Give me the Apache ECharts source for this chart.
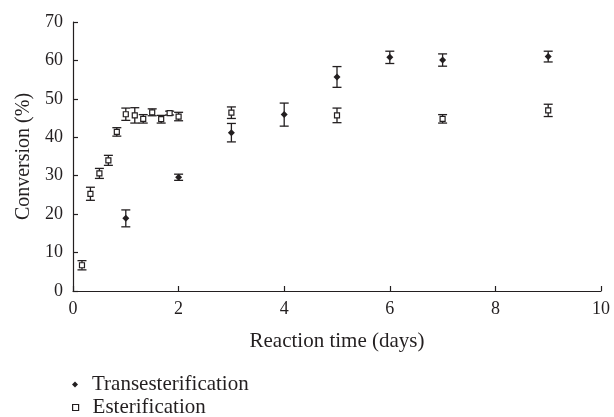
<!DOCTYPE html>
<html>
<head>
<meta charset="utf-8">
<script src="https://cdn.jsdelivr.net/npm/echarts@6/dist/echarts.min.js"></script>
<style>
  html, body { margin: 0; padding: 0; background: #fff; }
  #chart { width: 614px; height: 417px; }
</style>
</head>
<body>
<div id="chart"></div>
<script>
// reaction time (days) and conversion (%) with error bar half-widths
const transTime = [1, 2, 3, 4, 5, 6, 7, 9];
const transValue = [18.9, 29.6, 41.2, 45.9, 55.7, 60.8, 60.1, 61.0];
const transErr = [2.2, 0.8, 2.4, 3.0, 2.7, 1.6, 1.6, 1.4];

const esterTime = [0.17, 0.33, 0.5, 0.67, 0.83, 1, 1.17, 1.33, 1.5, 1.67, 1.83, 2, 3, 5, 7, 9];
const esterValue = [6.7, 25.3, 30.6, 34.0, 41.4, 46.0, 45.7, 44.8, 46.5, 44.7, 46.3, 45.4, 46.4, 45.7, 44.8, 47.0];
const esterErr = [1.2, 1.7, 1.3, 1.3, 1.1, 1.6, 2.0, 1.1, 0.9, 1.0, 0.5, 1.1, 1.5, 1.9, 1.1, 1.6];

const xTicks = [0, 2, 4, 6, 8, 10];
const yTicks = [0, 10, 20, 30, 40, 50, 60, 70];

const ink = '#231f20';
const font = 'Liberation Serif';

function errorSeries(times, values, errs) {
  return {
    type: 'custom',
    silent: true,
    z: 1,
    data: times.map((t, i) => [t, values[i] - errs[i], values[i] + errs[i]]),
    renderItem: (params, api) => {
      const lo = api.coord([api.value(0), api.value(1)]);
      const hi = api.coord([api.value(0), api.value(2)]);
      const w = 4.5;
      const style = { stroke: ink, lineWidth: 1.3 };
      return {
        type: 'group',
        children: [
          { type: 'line', shape: { x1: lo[0], y1: lo[1], x2: hi[0], y2: hi[1] }, style },
          { type: 'line', shape: { x1: lo[0] - w, y1: lo[1], x2: lo[0] + w, y2: lo[1] }, style },
          { type: 'line', shape: { x1: hi[0] - w, y1: hi[1], x2: hi[0] + w, y2: hi[1] }, style },
        ],
      };
    },
  };
}

// one legend per entry so the two rows stack like the original
function legendRow(top, item) {
  return {
    orient: 'vertical',
    left: 72,
    top: top,
    itemWidth: 6,
    itemHeight: 6,
    padding: 0,
    textStyle: { fontFamily: font, fontSize: 21, color: ink, lineHeight: 21, padding: [0, 0, 0, 9] },
    data: [item],
  };
}

const chart = echarts.init(document.getElementById('chart'), null, { renderer: 'canvas' });

chart.setOption({
  animation: false,
  backgroundColor: '#fff',
  textStyle: { fontFamily: font, color: ink },
  grid: { left: 73, right: 13, top: 22, bottom: 126, containLabel: false },
  legend: [
    legendRow(374, { name: 'Transesterification', icon: 'diamond', itemStyle: { color: ink, borderWidth: 0 } }),
    legendRow(397, { name: 'Esterification', icon: 'rect', itemStyle: { color: '#fff', borderColor: ink, borderWidth: 1.2 } }),
  ],
  xAxis: {
    type: 'value',
    min: xTicks[0],
    max: xTicks[xTicks.length - 1],
    interval: 2,
    name: 'Reaction time (days)',
    nameLocation: 'middle',
    nameGap: 40,
    nameTextStyle: { fontFamily: font, fontSize: 21, color: ink },
    axisLine: { show: true, lineStyle: { color: ink, width: 1.2 } },
    axisTick: { show: true, inside: true, length: 5, lineStyle: { color: ink, width: 1.2 } },
    axisLabel: { fontFamily: font, fontSize: 18, color: ink, margin: 9 },
    splitLine: { show: false },
  },
  yAxis: {
    type: 'value',
    min: yTicks[0],
    max: yTicks[yTicks.length - 1],
    interval: 10,
    name: 'Conversion (%)',
    nameLocation: 'middle',
    nameGap: 38,
    nameTextStyle: { fontFamily: font, fontSize: 20, color: ink },
    axisLine: { show: true, lineStyle: { color: ink, width: 1.2 } },
    axisTick: { show: true, inside: true, length: 5, lineStyle: { color: ink, width: 1.2 } },
    axisLabel: { fontFamily: font, fontSize: 18, color: ink, margin: 10 },
    splitLine: { show: false },
  },
  series: [
    errorSeries(transTime, transValue, transErr),
    errorSeries(esterTime, esterValue, esterErr),
    {
      name: 'Transesterification',
      type: 'scatter',
      z: 3,
      symbol: 'diamond',
      symbolSize: 7,
      itemStyle: { color: ink, opacity: 1 },
      data: transTime.map((t, i) => [t, transValue[i]]),
    },
    {
      name: 'Esterification',
      type: 'scatter',
      z: 3,
      symbol: 'rect',
      symbolSize: 5,
      itemStyle: { color: '#fff', borderColor: ink, borderWidth: 1.2, opacity: 1 },
      data: esterTime.map((t, i) => [t, esterValue[i]]),
    },
  ],
});
</script>
</body>
</html>
